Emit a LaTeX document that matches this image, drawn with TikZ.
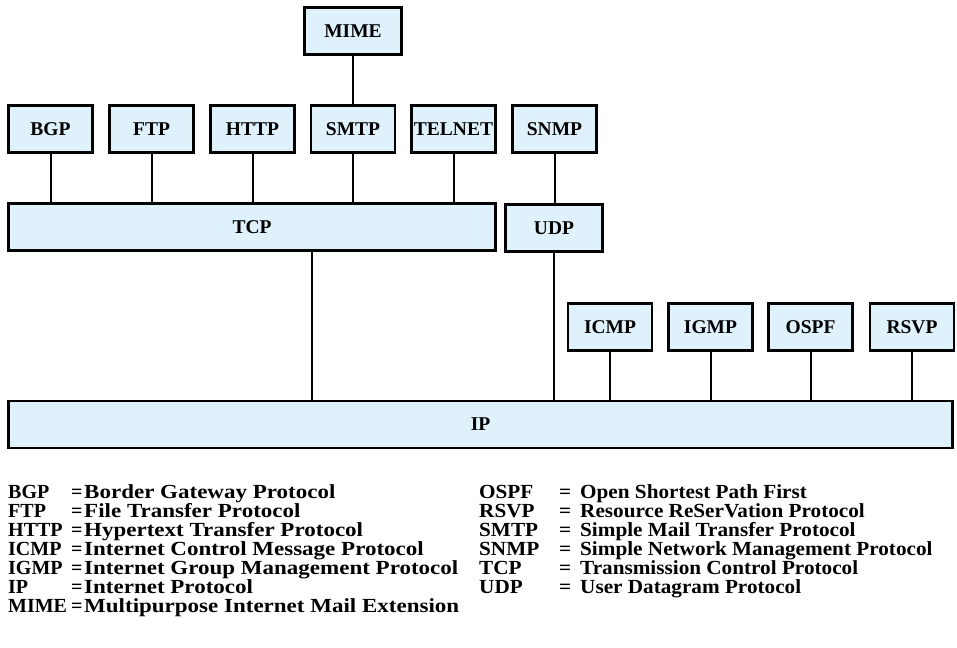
\documentclass[tikz,border=0pt]{standalone}
\usepackage{fontspec}
\setmainfont{Liberation Serif}
\newfontfamily\legfam{Liberation Serif}[FakeStretch=1.06]
\newfontfamily\legwidefam{Liberation Serif}[FakeStretch=1.15]
\usepackage{tikz}
\definecolor{protoblue}{RGB}{223,241,251}
\newcommand{\protofont}{\fontsize{19.5}{19.5}\selectfont\bfseries}
\newcommand{\legfont}{\legfam\fontsize{20}{20}\selectfont\bfseries}
\newcommand{\legwidefont}{\legwidefam\fontsize{20}{20}\selectfont\bfseries}
\tikzset{
  proto/.style={draw,line width=2.6pt,fill=protoblue,inner sep=0pt,
    minimum width=84pt,minimum height=47pt,font=\protofont},
  link/.style={line width=2pt},
  legend/.style={anchor=base west,inner sep=0pt,font=\legfont},
  legendplain/.style={legend,font=\fontsize{20}{20}\selectfont\bfseries},
  legendwide/.style={legend,font=\legwidefont}
}

\begin{document}
\begin{tikzpicture}[x=1pt,y=-1pt]
\useasboundingbox (0,0) rectangle (957,647);

\node[proto,minimum width=97pt] (MIME) at (353,31) {MIME};
\node[proto] (BGP) at (50.5,129) {BGP};
\node[proto] (FTP) at (151.5,129) {FTP};
\node[proto] (HTTP) at (252.5,129) {HTTP};
\node[proto] (SMTP) at (353,129) {SMTP};
\node[proto] (TELNET) at (453.5,129) {TELNET};
\node[proto] (SNMP) at (554.5,129) {SNMP};
\node[proto,minimum width=487pt] (TCP) at (252,227) {TCP};
\node[proto,minimum width=97pt] (UDP) at (554,228) {UDP};
\node[proto] (ICMP) at (610,327) {ICMP};
\node[proto] (IGMP) at (710.5,327) {IGMP};
\node[proto] (OSPF) at (810.5,327) {OSPF};
\node[proto] (RSVP) at (912,327) {RSVP};
\node[proto,minimum width=944pt] (IP) at (480.5,424.5) {IP};

\draw[link] (MIME.south) -- (SMTP.north);
\foreach \top in {BGP,FTP,HTTP,SMTP,TELNET}
  \draw[link] (\top.south) -- (\top.south |- TCP.north);
\draw[link] (SNMP.south) -- (SNMP.south |- UDP.north);
\draw[link] ([xshift=60pt]TCP.south) -- ([xshift=60pt]TCP.south |- IP.north);
\draw[link] (UDP.south) -- (UDP.south |- IP.north);
\foreach \low in {ICMP,IGMP,OSPF,RSVP}
  \draw[link] (\low.south) -- (\low.south |- IP.north);

% legend
\foreach \abbr/\desc [count=\i] in {BGP/Border Gateway Protocol,
    FTP/File Transfer Protocol, HTTP/Hypertext Transfer Protocol,
    ICMP/Internet Control Message Protocol,
    IGMP/Internet Group Management Protocol, IP/Internet Protocol,
    MIME/Multipurpose Internet Mail Extension} {
  \node[legendplain] (la\i) at (8,{498+19*(\i-1)}) {\abbr};
  \node[legendplain] (le\i) at (71,{498+19*(\i-1)}) {=};
  \node[legendwide] (ld\i) at (84,{498+19*(\i-1)}) {\desc};
}
\foreach \abbr/\desc [count=\i] in {OSPF/Open Shortest Path First,
    RSVP/Resource ReSerVation Protocol, SMTP/Simple Mail Transfer Protocol,
    SNMP/Simple Network Management Protocol,
    TCP/Transmission Control Protocol, UDP/User Datagram Protocol} {
  \node[legend] (ra\i) at (479,{498+19*(\i-1)}) {\abbr};
  \node[legend] (re\i) at (559,{498+19*(\i-1)}) {=};
  \node[legend] (rd\i) at (580,{498+19*(\i-1)}) {\desc};
}
\end{tikzpicture}
\end{document}
